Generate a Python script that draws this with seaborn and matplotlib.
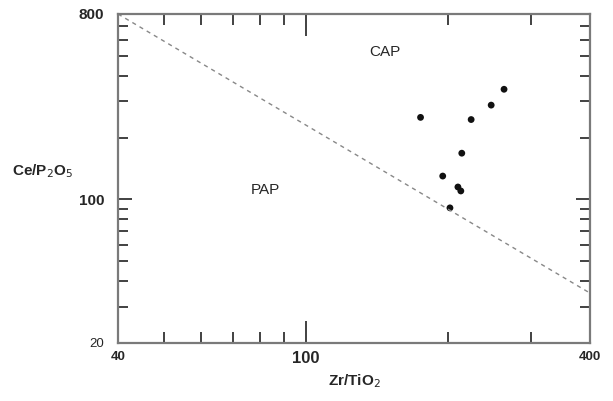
import matplotlib
matplotlib.use("Agg")
import matplotlib.pyplot as plt
import seaborn as sns
import pandas as pd
from matplotlib.ticker import FixedLocator, NullFormatter

# data
zr_tio2 = [263, 247, 175, 224, 214, 195, 210, 213, 202]
ce_p2o5 = [344, 288, 251, 245, 168, 130, 115, 110, 91]
boundary_x = [40, 400]
boundary_y = [800, 35]
x_ticks = [40, 100, 400]
y_ticks = [20, 100, 800]

sns.set_style("ticks")
plt.rcParams['font.family'] = ['Liberation Sans', 'DejaVu Sans']

fig = plt.figure(figsize=(6.13, 4.01), dpi=100)
ax = fig.add_axes([118/613, 58/401, 472/613, 329/401])

df = pd.DataFrame({"x": zr_tio2, "y": ce_p2o5})
bd = pd.DataFrame({"x": boundary_x, "y": boundary_y})

sns.lineplot(data=bd, x="x", y="y", ax=ax, color="#888888", linestyle=(0, (3, 3)),
             linewidth=1.0)
sns.scatterplot(data=df, x="x", y="y", ax=ax, color="#111111", s=24, edgecolor="none")

ax.set_xscale("log")
ax.set_yscale("log")
ax.set_xlim(40, 400)
ax.set_ylim(20, 800)

ax.xaxis.set_major_locator(FixedLocator(x_ticks))
ax.set_xticklabels([str(v) for v in x_ticks])
ax.xaxis.set_minor_locator(FixedLocator([50, 60, 70, 80, 90, 200, 300]))
ax.xaxis.set_minor_formatter(NullFormatter())
ax.yaxis.set_major_locator(FixedLocator(y_ticks))
ax.set_yticklabels([str(v) for v in y_ticks])
ax.yaxis.set_minor_locator(FixedLocator([30, 40, 50, 60, 70, 80, 90, 200, 300, 400, 500, 600, 700]))
ax.yaxis.set_minor_formatter(NullFormatter())

ax.tick_params(which="both", direction="in", top=True, right=True, color="#333333")
ax.tick_params(axis="x", which="major", length=16, width=1.3, pad=6)
ax.tick_params(axis="x", which="minor", length=8, width=1.3)
ax.tick_params(axis="y", which="major", length=10, width=1.3, pad=10)
ax.tick_params(axis="y", which="minor", length=7, width=1.3)

for lab in ax.get_xticklabels():
    if lab.get_text() == "100":
        lab.set_fontsize(12)
        lab.set_fontweight("bold")
    else:
        lab.set_fontsize(9.5)
        lab.set_fontweight("bold")
for lab in ax.get_yticklabels():
    if lab.get_text() == "20":
        lab.set_fontsize(9.5)
    else:
        lab.set_fontsize(11)
        lab.set_fontweight("bold")

for sp in ax.spines.values():
    sp.set_visible(True)
    sp.set_color("#7a7a7a")
    sp.set_linewidth(1.6)

ax.set_xlabel("Zr/TiO$_2$", fontsize=11, fontweight="bold", labelpad=4)
ax.set_ylabel("Ce/P$_2$O$_5$", fontsize=11, fontweight="bold", rotation=0)
ax.yaxis.set_label_coords(-0.159, 0.495)

ax.text(147, 520, "CAP", fontsize=11, ha="center", va="center")
ax.text(82, 111, "PAP", fontsize=11, ha="center", va="center")

fig.savefig("out.png", dpi=100)
